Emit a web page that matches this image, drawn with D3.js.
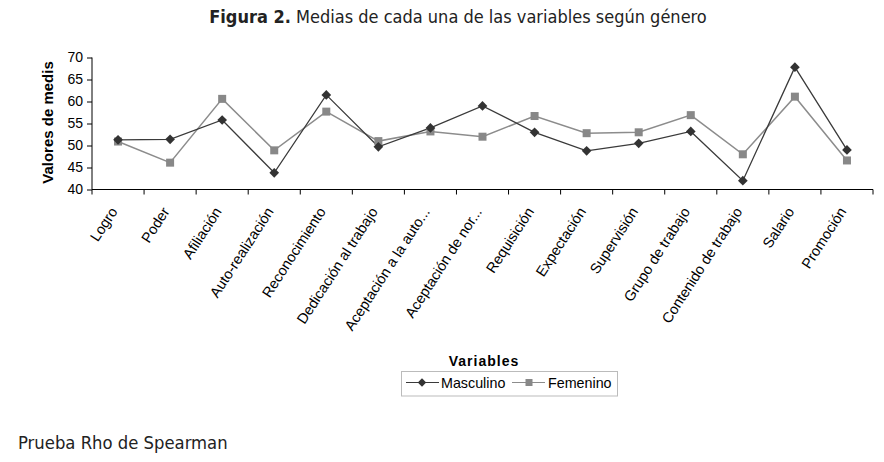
<!DOCTYPE html>
<html><head><meta charset="utf-8">
<script src="https://cdn.jsdelivr.net/npm/d3@7"></script>
<style>
html,body{margin:0;padding:0;background:#fff;}
svg{display:block;}
</style></head>
<body>
<svg id="chart" width="884" height="462"></svg>
<script>
const categories = ["Logro","Poder","Afiliación","Auto-realización","Reconocimiento","Dedicación al trabajo","Aceptación a la auto...","Aceptación de nor...","Requisición","Expectación","Supervisión","Grupo de trabajo","Contenido de trabajo","Salario","Promoción"];
const masculino = [51.3,51.4,55.8,43.8,61.5,49.7,54.0,59.0,53.0,48.8,50.5,53.2,42.0,67.8,49.0];
const femenino  = [50.9,46.1,60.6,48.9,57.7,51.0,53.2,52.0,56.7,52.8,53.0,56.9,48.0,61.1,46.6];
const yTicks = [40,45,50,55,60,65,70];
const seriesNames = ["Masculino","Femenino"];

(function(){
const svg = d3.select("#chart");
const pL = 92, pR = 873, pT = 57.5, pB = 189.5;
const x = d3.scaleBand().domain(categories).range([pL, pR]).padding(0);
const y = d3.scaleLinear().domain([40,70]).range([pB, pT]);
const chartFont = "'Liberation Sans', Arial, sans-serif";
const titleFont = "'DejaVu Sans Condensed', 'DejaVu Sans', sans-serif";

// Title
const title = svg.append("text").attr("x", 458).attr("y", 23).attr("text-anchor","middle")
  .attr("font-family", titleFont).attr("font-size", 18).attr("fill","#222");
title.append("tspan").attr("font-weight","bold").text("Figura 2.");
title.append("tspan").text(" Medias de cada una de las variables según género");

// Y axis
const yAxis = svg.append("g").attr("transform",`translate(${pL},0)`)
  .call(d3.axisLeft(y).tickValues(yTicks).tickSize(5).tickPadding(4));
yAxis.select(".domain").attr("stroke","#000").attr("d", `M0,${pT}V${pB}`);
yAxis.selectAll(".tick line").attr("stroke","#000");
yAxis.selectAll("text").attr("font-family", chartFont).attr("font-size", 14).attr("fill","#000");

// X axis
const xAxis = svg.append("g").attr("transform",`translate(0,${pB})`);
xAxis.append("line").attr("x1", pL).attr("x2", pR).attr("y1",0).attr("y2",0).attr("stroke","#000");
const bounds = categories.map(c => x(c)).concat([pR]);
xAxis.selectAll("line.tk").data(bounds).join("line").attr("class","tk")
  .attr("x1", d=>d).attr("x2", d=>d).attr("y1",0).attr("y2",5).attr("stroke","#000");
xAxis.selectAll("text.lbl").data(categories).join("text").attr("class","lbl")
  .attr("transform", d => `translate(${x(d)+x.bandwidth()/2},${22}) rotate(-57)`)
  .attr("text-anchor","end")
  .attr("font-family", chartFont).attr("font-size", 14.5).attr("fill","#000")
  .text(d=>d);

// Y label
svg.append("text").attr("transform",`translate(53,${(pT+pB)/2-1}) rotate(-90)`)
  .attr("text-anchor","middle").attr("font-family", chartFont).attr("font-weight","bold")
  .attr("font-size", 15).attr("fill","#000").text("Valores de medis");

// Lines
const cx = d => x(d) + x.bandwidth()/2;
const line = d3.line().x(d => cx(d.c)).y(d => y(d.v));
const femData = categories.map((c,i)=>({c, v: femenino[i]}));
const masData = categories.map((c,i)=>({c, v: masculino[i]}));
svg.append("path").attr("d", line(femData)).attr("fill","none").attr("stroke","#8c8c8c").attr("stroke-width",1.5);
svg.append("path").attr("d", line(masData)).attr("fill","none").attr("stroke","#3a3a3a").attr("stroke-width",1.3);
svg.selectAll("rect.f").data(femData).join("rect").attr("class","f")
  .attr("x", d=>cx(d.c)-4).attr("y", d=>y(d.v)-4).attr("width",8).attr("height",8).attr("fill","#888");
const diamond = d3.symbol().type(d3.symbolDiamond2).size(60);
svg.selectAll("path.m").data(masData).join("path").attr("class","m")
  .attr("transform", d=>`translate(${cx(d.c)},${y(d.v)})`).attr("d", diamond()).attr("fill","#333");

// Legend
svg.append("text").attr("x", 484).attr("y", 366).attr("text-anchor","middle")
  .attr("font-family", chartFont).attr("font-weight","bold").attr("font-size",14)
  .attr("letter-spacing", 1).attr("fill","#000").text("Variables");
svg.append("rect").attr("x",401.5).attr("y",371.5).attr("width",216).attr("height",24.5)
  .attr("fill","none").attr("stroke","#bbb");
const lg = svg.append("g");
lg.append("line").attr("x1",406).attr("x2",439).attr("y1",382.5).attr("y2",382.5).attr("stroke","#3a3a3a").attr("stroke-width",1.2);
lg.append("path").attr("transform","translate(422,382.5)").attr("d", d3.symbol().type(d3.symbolDiamond2).size(45)()).attr("fill","#333");
lg.append("text").attr("x",441).attr("y",387.5).attr("font-family",chartFont).attr("font-size",14.3).attr("fill","#000").text(seriesNames[0]);
lg.append("line").attr("x1",512).attr("x2",545).attr("y1",382.5).attr("y2",382.5).attr("stroke","#8c8c8c").attr("stroke-width",1.2);
lg.append("rect").attr("x",525.5).attr("y",379).attr("width",7).attr("height",7).attr("fill","#888");
lg.append("text").attr("x",548).attr("y",387.5).attr("font-family",chartFont).attr("font-size",14.3).attr("fill","#000").text(seriesNames[1]);

// Footer
svg.append("text").attr("x",18).attr("y",449).attr("font-family", titleFont).attr("font-size",18.3)
  .attr("fill","#222").text("Prueba Rho de Spearman");
})();
</script>
</body></html>
